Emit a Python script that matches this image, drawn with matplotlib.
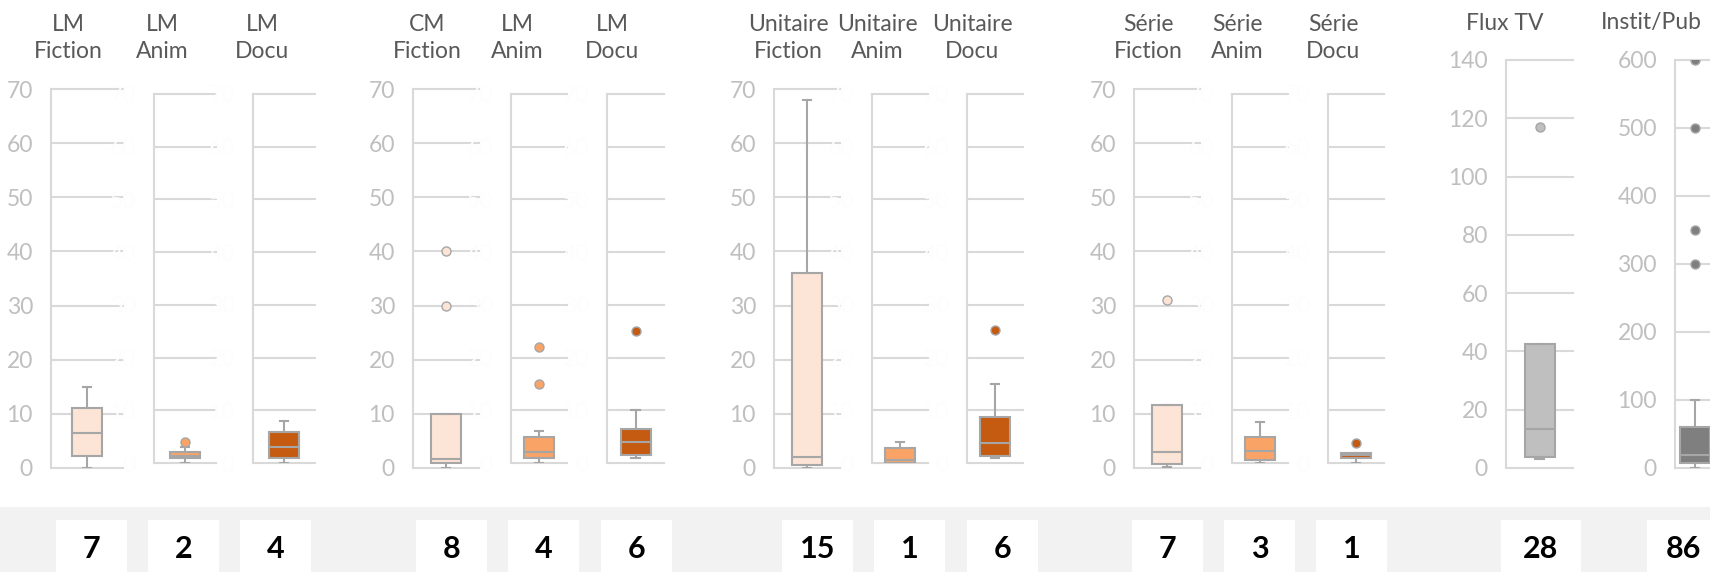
import matplotlib
matplotlib.use("Agg")
import matplotlib.pyplot as plt
from matplotlib.patches import Rectangle

plt.rcParams['font.family'] = ['Lato', 'DejaVu Sans']

# --- data ------------------------------------------------------------------
titles = ["LM\nFiction", "LM\nAnim", "LM\nDocu",
          "CM\nFiction", "LM\nAnim", "LM\nDocu",
          "Unitaire\nFiction", "Unitaire\nAnim", "Unitaire\nDocu",
          "Série\nFiction", "Série\nAnim", "Série\nDocu",
          "Flux TV", "Instit/Pub"]
counts = [7, 2, 4, 8, 4, 6, 15, 1, 6, 7, 3, 1, 28, 86]

whislo = [0, 0, 0, 0, 0, 1.0, 0, 0, 0.9, 0.1, 0, 0, 3.1, 0]
q1 = [2.3, 0.95, 1.0, 0.9, 1.0, 1.5, 0.6, 0, 1.25, 0.8, 0.6, 0.95, 3.9, 7]
med = [6.5, 1.4, 3.0, 1.6, 2.0, 4.0, 2.0, 0.5, 3.7, 3.0, 2.3, 1.45, 13.5, 19]
q3 = [11.0, 2.1, 5.9, 10.0, 5.0, 6.5, 36.0, 2.9, 8.65, 11.6, 4.9, 1.9, 42.7, 60]
whishi = [15.0, 3.0, 7.9, 10.0, 6.0, 10.0, 68.0, 3.9, 14.9, 11.6, 7.8, 1.9, 42.7, 100]
fliers = [[], [4.0], [], [30, 40], [15, 22], [25], [], [], [25.3], [31], [], [3.85],
          [117], [300, 350, 500, 600]]

ymax = [70] * 12 + [140, 600]
ystep = [10] * 12 + [20, 100]
# first chart of each group shows its axis labels, the others are white
label_visible = [True, False, False, True, False, False, True, False, False,
                 True, False, False, True, True]

fiction_c, anim_c, docu_c = "#FCE4D6", "#F9A367", "#C55A11"
face_colors = [fiction_c, anim_c, docu_c] * 4 + ["#BFBFBF", "#7F7F7F"]

# --- layout (pixels of the 1710x572 picture) --------------------------------
W, H = 1710, 572
# axis left, box centre, top, bottom
panels = [(51, 87, 89, 468), (154, 185, 94, 463), (253, 284, 94, 463),
          (413, 446, 89, 468), (511, 539, 94, 463), (607, 635.5, 94, 463),
          (774, 807, 89, 468), (872, 900, 94, 463), (967, 995, 94, 463),
          (1134, 1167, 89, 468), (1232, 1260, 94, 463), (1328, 1356, 94, 463),
          (1506, 1539.5, 60, 468), (1675, 1695, 60, 468)]
title_x = [68, 162, 262, 427, 517, 612, 788, 877, 972, 1148, 1237, 1333, 1505, 1651]
count_box = [(56, 127), (148, 219), (240, 311), (416, 487), (508, 579), (601, 672),
             (782, 853), (874, 945), (967, 1038), (1132, 1203), (1224, 1295),
             (1316, 1387), (1501, 1581), (1647, 1720)]

grid_c = "#D9D9D9"
edge_c = "#A6A6A6"

fig = plt.figure(figsize=(W / 100, H / 100), dpi=100)

# background: grey band with white count boxes
bg = fig.add_axes([0, 0, 1, 1], zorder=-5)
bg.set_xlim(0, W)
bg.set_ylim(H, 0)
bg.axis("off")
bg.add_patch(Rectangle((0, 507), W, H - 507, color="#F2F2F2", lw=0))
for (x0, x1), n in zip(count_box, counts):
    bg.add_patch(Rectangle((x0, 520), x1 - x0, H - 520, color="white", lw=0))
    bg.text((x0 + x1) / 2, 549, str(n), ha="center", va="center",
            fontsize=22, fontweight="bold", color="black")

for i, (left, centre, top, bottom) in enumerate(panels):
    right = 2 * centre - left
    ax = fig.add_axes([left / W, 1 - bottom / H, (right - left) / W, (bottom - top) / H])
    ax.set_facecolor("none")
    half = (right - left) / 2
    box_w = 30 / half

    stats = [dict(whislo=whislo[i], q1=q1[i], med=med[i], q3=q3[i],
                  whishi=whishi[i], fliers=fliers[i])]
    ax.bxp(stats, positions=[0], widths=box_w, capwidths=box_w * 0.28,
           patch_artist=True, showfliers=True,
           boxprops=dict(facecolor=face_colors[i], edgecolor=edge_c, linewidth=1.5),
           medianprops=dict(color=edge_c, linewidth=1.5),
           whiskerprops=dict(color=edge_c, linewidth=1.5),
           capprops=dict(color=edge_c, linewidth=1.5),
           flierprops=dict(marker="o", markersize=6.5, markerfacecolor=face_colors[i],
                           markeredgecolor=edge_c, markeredgewidth=1.0),
           zorder=3)

    ticks = list(range(0, ymax[i] + 1, ystep[i]))
    for t in ticks:
        ax.axhline(t, color=grid_c, lw=1.5, zorder=1, clip_on=False)
    ax.set_xlim(-1, 1)
    ax.set_ylim(0, ymax[i])
    ax.set_yticks(ticks)
    ax.set_xticks([])
    for s in ["top", "right", "bottom"]:
        ax.spines[s].set_visible(False)
    ax.spines["left"].set_color(grid_c)
    ax.spines["left"].set_linewidth(1.5)
    lab_c = "#BFBFBF" if label_visible[i] else "#FDFDFD"
    ax.tick_params(axis="y", length=0, pad=13, labelsize=16.5, labelcolor=lab_c)

    ty = 23 if "\n" not in titles[i] else 38
    fig.text(title_x[i] / W, 1 - ty / H, titles[i], ha="center", va="center",
             fontsize=16.5, color="#595959", linespacing=1.3)

fig.savefig("out.png", dpi=100)
